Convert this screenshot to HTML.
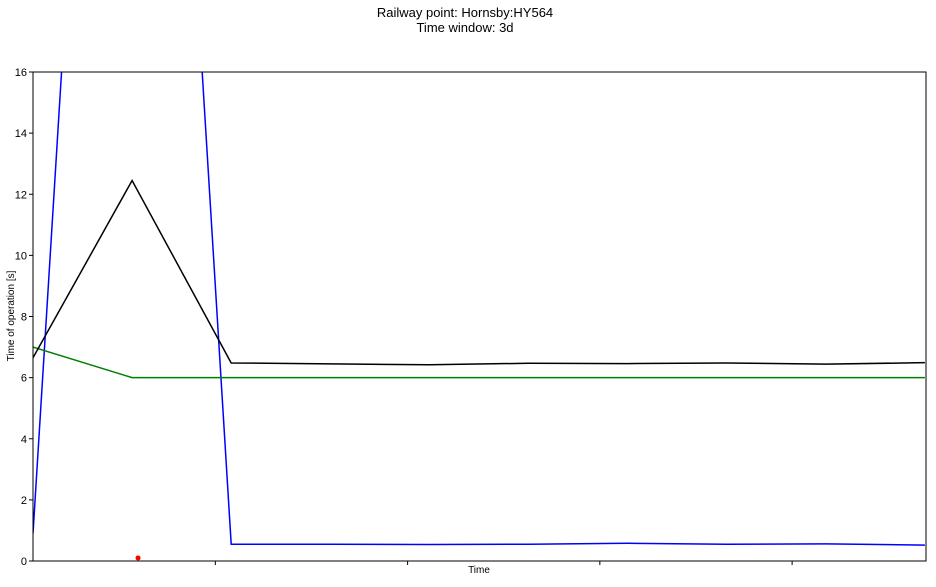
<!DOCTYPE html>
<html><head><meta charset="utf-8"><style>
body{margin:0;background:#fff;font-family:"Liberation Sans",sans-serif;}
svg text{font-family:"Liberation Sans",sans-serif;}
</style></head><body>
<svg id="chart" width="936" height="582" xmlns="http://www.w3.org/2000/svg">
<defs><clipPath id="clip"><rect x="33" y="72" width="893" height="489"/></clipPath></defs>
<text x="465" y="17" font-size="13" text-anchor="middle">Railway point: Hornsby:HY564</text>
<text x="465" y="32" font-size="13" text-anchor="middle">Time window: 3d</text>
<g id="plot" clip-path="url(#clip)"></g>
<rect x="33" y="72" width="893" height="489" fill="none" stroke="#000" stroke-width="1"/>
<g id="axes"></g>
<text x="479" y="573" font-size="10" text-anchor="middle">Time</text>
<text transform="translate(14,316) rotate(-90)" font-size="10" text-anchor="middle">Time of operation [s]</text>
</svg>
<script>
const xIdx=[0,1,2,3,4,5,6,7,8,9];
const blackVals=[6.65,12.45,6.48,6.45,6.42,6.47,6.46,6.48,6.44,6.49];
const greenVals=[7.0,6.0,6.0,6.0,6.0,6.0,6.0,6.0,6.0,6.0];
const blueVals=[0.9,53.3,0.55,0.55,0.54,0.55,0.58,0.55,0.56,0.52];
const redPoint=[1.06,0.1];
const yTicks=[0,2,4,6,8,10,12,14,16];
const xTicks=[1.84,3.78,5.72,7.66];
const NS="http://www.w3.org/2000/svg";
const L=33,R=926,T=72,B=561;
const xs=i=>L+i*(99.1);
const ys=v=>B-(v/16)*(B-T);
const plot=document.getElementById('plot'),axes=document.getElementById('axes');
function line(vals,color,name){
  const p=document.createElementNS(NS,'polyline');
  p.setAttribute('points',vals.map((v,i)=>xs(xIdx[i])+','+ys(v)).join(' '));
  p.setAttribute('fill','none');p.setAttribute('stroke',color);p.setAttribute('stroke-width','1.5');
  
  
  plot.appendChild(p);
}
line(blueVals,'#0000ff','blue-series-line');
line(greenVals,'#008000','green-series-line');
line(blackVals,'#000000','black-series-line');
const c=document.createElementNS(NS,'circle');
c.setAttribute('cx',xs(redPoint[0]));c.setAttribute('cy',ys(redPoint[1]));c.setAttribute('r','2.5');c.setAttribute('fill','#ff0000');


plot.appendChild(c);
yTicks.forEach(v=>{
  const t=document.createElementNS(NS,'line');
  t.setAttribute('x1',L-4);t.setAttribute('x2',L);t.setAttribute('y1',ys(v));t.setAttribute('y2',ys(v));t.setAttribute('stroke','#000');
  
  
  axes.appendChild(t);
  const tx=document.createElementNS(NS,'text');
  tx.setAttribute('x',L-6);tx.setAttribute('y',ys(v)+4);tx.setAttribute('font-size','11');tx.setAttribute('text-anchor','end');
  tx.textContent=v;
  
  
  axes.appendChild(tx);
});
xTicks.forEach(v=>{
  const t=document.createElementNS(NS,'line');
  t.setAttribute('x1',xs(v));t.setAttribute('x2',xs(v));t.setAttribute('y1',B);t.setAttribute('y2',B+4);t.setAttribute('stroke','#000');
  
  
  axes.appendChild(t);
});
</script>
</body></html>
